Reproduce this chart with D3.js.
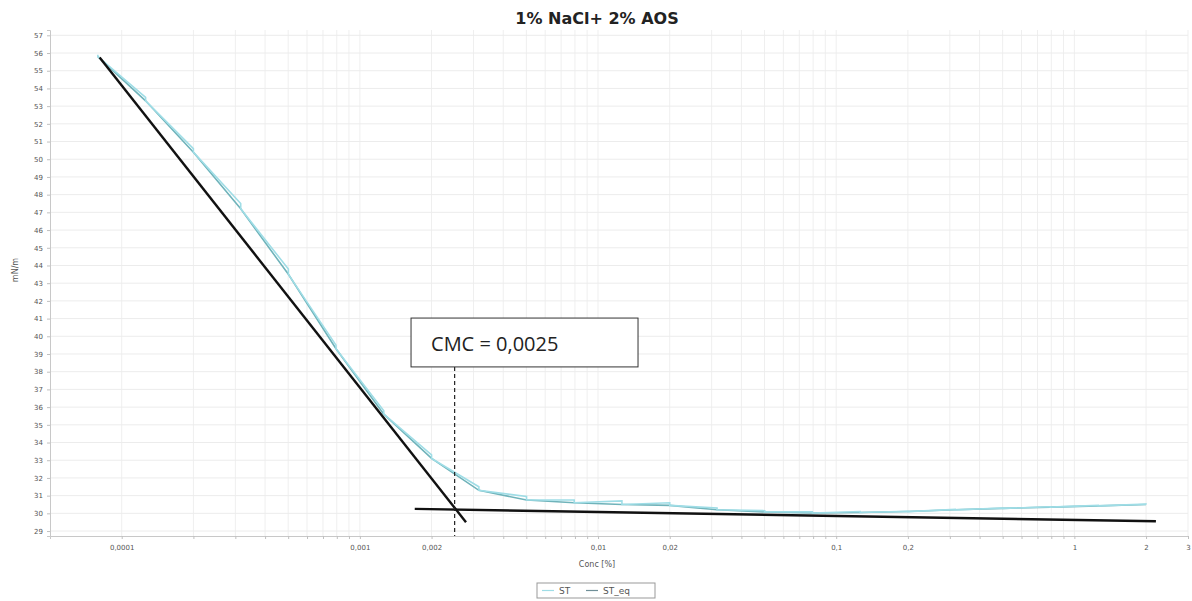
<!DOCTYPE html>
<html>
<head>
<meta charset="utf-8">
<script src="https://cdn.jsdelivr.net/npm/d3@7"></script>
<style>
  body { margin: 0; background: #fff; }
  svg { display: block; }
</style>
</head>
<body>
<div id="chart"></div>
<script>
// concentrations [%] of each dosing step
const conc = [0.0000794, 0.000126, 0.0002, 0.000316, 0.000501, 0.000794, 0.00126, 0.002,
  0.00316, 0.00501, 0.00794, 0.0126, 0.02, 0.0316, 0.0501, 0.0794, 0.126, 0.2,
  0.316, 0.501, 0.794, 1.26, 2];
// first reading after each dosing (ST) and equilibrium value (ST_eq), mN/m
const stFirst = [55.9, 53.5, 50.6, 47.5, 43.8, 39.5, 35.8, 33.3, 31.5, 30.95, 30.75, 30.7,
  30.6, 30.3, 30.15, 30.08, 30.1, 30.12, 30.22, 30.3, 30.37, 30.45, 30.52];
const stEq = [55.8, 53.3, 50.4, 47.2, 43.5, 39.3, 35.6, 33.1, 31.3, 30.75, 30.6, 30.5,
  30.45, 30.2, 30.08, 30.02, 30.05, 30.1, 30.2, 30.28, 30.35, 30.42, 30.5];

// hand drawn tangents and CMC marker
const tangentSteep = [[0.0000808, 55.75], [0.00279, 29.5]];
const tangentFlat = [[0.0017, 30.25], [2.2, 29.55]];
const cmc = 0.0025;
const cmcLabel = "CMC = 0,0025";

const xLabelled = [0.0001, 0.001, 0.002, 0.01, 0.02, 0.1, 0.2, 1, 2, 3];
const yTicks = d3.range(29, 58);

const W = 1192, H = 601;
const svg = d3.select('#chart').append('svg')
  .attr('width', W).attr('height', H);

const x = d3.scaleLog().domain([0.00005, 3]).range([50, 1188]);
const y = d3.scaleLinear().domain([28.72, 57.3]).range([536, 30]);

// log ticks from 0.0001 up to 3
const xTicks = [];
for (let e = -4; e <= 0; e++) {
  for (let m = 1; m <= 9; m++) {
    const v = m * Math.pow(10, e);
    if (v <= 3.0001) xTicks.push(+v.toPrecision(3));
  }
}

const fmt = v => String(v).replace('.', ',');

// grid
svg.append('g').selectAll('line')
  .data(xTicks).join('line')
  .attr('x1', d => x(d)).attr('x2', d => x(d))
  .attr('y1', 30).attr('y2', 536)
  .attr('stroke', '#efefef').attr('stroke-width', 1);
svg.append('g').selectAll('line')
  .data(yTicks).join('line')
  .attr('x1', 50).attr('x2', 1188)
  .attr('y1', d => y(d)).attr('y2', d => y(d))
  .attr('stroke', '#ececec').attr('stroke-width', 1);

// axes
const xAxis = svg.append('g')
  .attr('transform', 'translate(0,536)')
  .call(d3.axisBottom(x).tickValues(xTicks)
    .tickFormat(d => xLabelled.some(v => Math.abs(v - d) < 1e-9) ? fmt(d) : '')
    .tickSize(3).tickPadding(6));
const yAxis = svg.append('g')
  .attr('transform', 'translate(50,0)')
  .call(d3.axisLeft(y).tickValues(yTicks).tickSize(3).tickPadding(4));

[xAxis, yAxis].forEach(a => {
  a.select('.domain').attr('stroke', '#c8c8c8');
  a.selectAll('.tick line').attr('stroke', '#c0c0c0');
  a.selectAll('text')
    .attr('fill', '#555')
    .style('font-family', 'DejaVu Sans')
    .style('font-size', '7px');
});

// series
const line = d3.line().x(d => x(d[0])).y(d => y(d[1]));

const eqPts = conc.map((c, i) => [c, stEq[i]]);
const stPts = [];
conc.forEach((c, i) => {
  stPts.push([c, stFirst[i]]);
  stPts.push([c, stEq[i]]);
});

svg.append('path')
  .datum(eqPts)
  .attr('d', line)
  .attr('fill', 'none')
  .attr('stroke', '#6fb3ba')
  .attr('stroke-width', 1.6);

svg.append('path')
  .datum(stPts)
  .attr('d', line)
  .attr('fill', 'none')
  .attr('stroke', '#9fdde6')
  .attr('stroke-width', 1.6);

// tangents
[tangentSteep, tangentFlat].forEach(t => {
  svg.append('path')
    .datum(t)
    .attr('d', line)
    .attr('fill', 'none')
    .attr('stroke', '#111')
    .attr('stroke-width', 2.4);
});

// CMC marker
svg.append('line')
  .attr('x1', x(cmc)).attr('x2', x(cmc))
  .attr('y1', y(38.27)).attr('y2', 536)
  .attr('stroke', '#222')
  .attr('stroke-width', 1.2)
  .attr('stroke-dasharray', '4,3');

svg.append('rect')
  .attr('x', x(0.00164)).attr('y', y(41.03))
  .attr('width', x(0.01472) - x(0.00164))
  .attr('height', y(38.27) - y(41.03))
  .attr('fill', '#fff')
  .attr('stroke', '#333')
  .attr('stroke-width', 1);

svg.append('text')
  .attr('x', x(0.00164) + 20)
  .attr('y', y(38.27) - 16)
  .style('font-family', 'Open Sans')
  .style('font-size', '20px')
  .attr('fill', '#222')
  .text(cmcLabel);

// title and labels
svg.append('text')
  .attr('x', 597).attr('y', 24)
  .attr('text-anchor', 'middle')
  .style('font-family', 'DejaVu Sans')
  .style('font-weight', 'bold')
  .style('font-size', '16px')
  .attr('fill', '#222')
  .text('1% NaCl+ 2% AOS');

svg.append('text')
  .attr('x', 597).attr('y', 567)
  .attr('text-anchor', 'middle')
  .style('font-family', 'DejaVu Sans')
  .style('font-size', '8px')
  .attr('fill', '#555')
  .text('Conc [%]');

svg.append('text')
  .attr('transform', 'translate(18,270) rotate(-90)')
  .attr('text-anchor', 'middle')
  .style('font-family', 'DejaVu Sans')
  .style('font-size', '8px')
  .attr('fill', '#555')
  .text('mN/m');

// legend
const legend = svg.append('g').attr('transform', 'translate(537,583)');
legend.append('rect')
  .attr('width', 118).attr('height', 15)
  .attr('fill', '#fff').attr('stroke', '#999');
const legendItems = [
  {name: 'ST', color: '#9fdde6', x: 5},
  {name: 'ST_eq', color: '#6f8f98', x: 49}
];
legendItems.forEach(d => {
  legend.append('line')
    .attr('x1', d.x).attr('x2', d.x + 12)
    .attr('y1', 7.5).attr('y2', 7.5)
    .attr('stroke', d.color).attr('stroke-width', 1.2);
  legend.append('text')
    .attr('x', d.x + 17).attr('y', 11)
    .style('font-family', 'DejaVu Sans')
    .style('font-size', '9px')
    .attr('fill', '#555')
    .text(d.name);
});
</script>
</body>
</html>
